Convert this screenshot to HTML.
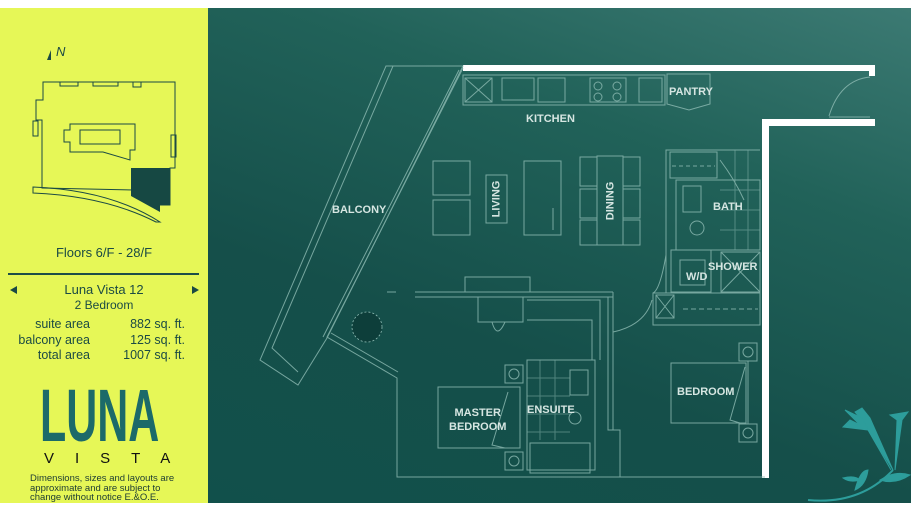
<!DOCTYPE html>
<html><head><meta charset="utf-8"><style>
body{margin:0;width:911px;height:512px;overflow:hidden;background:#fff;font-family:"Liberation Sans",sans-serif;position:relative}
#left{position:absolute;left:0;top:8px;width:208px;height:495px;background:#e6f757}
#right{position:absolute;left:208px;top:8px;width:703px;height:495px;background:linear-gradient(200deg,#3c7a73 0%,#216259 30%,#154f4a 65%,#11504b 100%)}
.t{position:absolute;color:#1b4a44;white-space:nowrap}
.l{position:absolute;color:#d6e6e2;font-weight:bold;font-size:11px;white-space:nowrap}
</style></head><body>
<div id="left"></div>
<div id="right"></div>
<svg style="position:absolute;left:0;top:0" width="911" height="512" viewBox="0 0 911 512">
<g fill="none" stroke="#1b4a44" stroke-width="1">
<polygon points="43,82 175,82 175,168 170,168 170,205 160,205 135,190 42,188 42,120 36,120 36,100 43,100"/>
<rect x="33" y="121" width="5" height="15"/>
<rect x="171" y="135" width="5" height="22"/>
<polyline points="60,82 60,86 78,86 78,82"/><polyline points="93,82 93,86 118,86 118,82"/><polyline points="133,82 133,87 141,87 141,82"/>
<polygon points="70,124 135,124 135,150 130,150 130,160 103,152 70,152 70,142 64,142 64,130 70,130"/>
<rect x="80" y="130" width="40" height="14"/>
<path d="M33,187 Q110,190 160,222 L156,222 Q105,196 33,193 Z"/>
</g>
<polygon points="131,168 170,168 170,205 160,205 160,212 131,196" fill="#164843"/>
<polygon points="47,60 51,50 51,60" fill="#1b4a44"/>
<line x1="8" y1="274" x2="199" y2="274" stroke="#1d4e48" stroke-width="2"/>
<polygon points="10,290 17,286 17,294" fill="#1b4a44"/><polygon points="199,290 192,286 192,294" fill="#1b4a44"/>
<g fill="#fff">
<rect x="463" y="65" width="412" height="6"/><rect x="869" y="65" width="6" height="11"/>
<rect x="762" y="119" width="113" height="7"/><rect x="762" y="119" width="7" height="359"/>
</g>
<g fill="none" stroke="#8fbcb4" stroke-width="1" opacity="0.8">
<polygon points="386,66 463,66 327,338 298,385 260,360"/>
<polyline points="393,66 272,348 298,372"/>
<path d="M463,68 L327,337 L397,378 L397,477 L765,477"/>
<path d="M459,70 L323,337 M331,333 L398,372" />
<line x1="396" y1="292" x2="387" y2="292"/>
<rect x="463" y="75" width="202" height="30"/>
<rect x="465" y="78" width="27" height="24"/><line x1="465" y1="78" x2="492" y2="102"/><line x1="492" y1="78" x2="465" y2="102"/>
<rect x="502" y="78" width="32" height="22"/><rect x="538" y="78" width="27" height="24"/>
<rect x="590" y="78" width="36" height="24"/><circle cx="598" cy="86" r="4"/><circle cx="617" cy="86" r="4"/><circle cx="598" cy="97" r="4"/><circle cx="617" cy="97" r="4"/>
<rect x="639" y="78" width="23" height="24"/>
<polygon points="667,74 710,74 710,104 689,110 667,104"/>
<path d="M870,77 Q840,80 829,116"/><line x1="829" y1="117" x2="870" y2="117"/>
<rect x="433" y="161" width="37" height="34"/><rect x="433" y="200" width="37" height="35"/>
<rect x="486" y="175" width="21" height="48"/>
<rect x="524" y="161" width="37" height="74"/><line x1="553" y1="208" x2="553" y2="230"/>
<rect x="597" y="156" width="26" height="89"/>
<rect x="580" y="157" width="17" height="29"/><rect x="580" y="189" width="17" height="29"/><rect x="580" y="220" width="17" height="25"/>
<rect x="623" y="157" width="17" height="29"/><rect x="623" y="189" width="17" height="29"/><rect x="623" y="220" width="17" height="25"/>
<polyline points="666,293 666,150 760,150"/>
<rect x="670" y="152" width="47" height="26"/><line x1="672" y1="166" x2="715" y2="166" stroke-dasharray="4,3"/>
<rect x="676" y="180" width="84" height="70"/>
<rect x="683" y="186" width="18" height="26"/><circle cx="697" cy="228" r="7"/>
<path d="M720,160 Q735,180 744,200"/>
<g opacity="0.6"><line x1="720" y1="190" x2="760" y2="190"/><line x1="720" y1="210" x2="760" y2="210"/><line x1="720" y1="230" x2="760" y2="230"/><line x1="735" y1="150" x2="735" y2="250"/><line x1="748" y1="150" x2="748" y2="250"/></g>
<rect x="671" y="250" width="40" height="42"/><rect x="680" y="260" width="25" height="25"/>
<rect x="721" y="252" width="39" height="40"/><line x1="721" y1="292" x2="760" y2="252"/><line x1="721" y1="252" x2="760" y2="292"/>
<path d="M666,255 Q660,290 653,293"/>
<rect x="653" y="293" width="107" height="32"/><rect x="656" y="295" width="18" height="23"/><line x1="656" y1="295" x2="674" y2="318"/><line x1="674" y1="295" x2="656" y2="318"/>
<line x1="683" y1="309" x2="758" y2="309" stroke-dasharray="5,3"/>
<path d="M613,332 Q645,325 652,300"/>
<rect x="671" y="363" width="75" height="60"/><rect x="739" y="343" width="18" height="18"/><rect x="739" y="424" width="18" height="18"/>
<circle cx="748" cy="352" r="5"/><circle cx="748" cy="433" r="5"/>
<polyline points="745,367 730,420 740,423"/>
<line x1="748" y1="361" x2="748" y2="424"/>
<line x1="415" y1="292" x2="613" y2="292"/><line x1="415" y1="297" x2="613" y2="297"/>
<rect x="465" y="277" width="65" height="15"/>
<rect x="478" y="297" width="45" height="25"/><path d="M492,322 Q497,340 505,322"/>
<polyline points="527,300 600,300 600,360"/><polyline points="527,320 592,320 592,360"/>
<line x1="613" y1="292" x2="613" y2="430"/><polyline points="608,297 608,430 620,430 620,477"/>
<rect x="527" y="360" width="68" height="110"/>
<g opacity="0.6"><line x1="527" y1="378" x2="570" y2="378"/><line x1="527" y1="396" x2="570" y2="396"/><line x1="527" y1="414" x2="570" y2="414"/><line x1="527" y1="432" x2="570" y2="432"/><line x1="540" y1="360" x2="540" y2="440"/><line x1="555" y1="360" x2="555" y2="440"/></g>
<rect x="570" y="370" width="18" height="25"/><circle cx="575" cy="418" r="6"/>
<rect x="530" y="443" width="60" height="30"/>
<rect x="438" y="387" width="82" height="61"/><rect x="505" y="365" width="18" height="18"/><rect x="505" y="452" width="18" height="18"/>
<circle cx="514" cy="374" r="5"/><circle cx="514" cy="461" r="5"/>
<polyline points="508,392 492,445 505,448"/>
</g>
<circle cx="367" cy="327" r="15" fill="#0d3e3a" stroke="#8fbcb4" stroke-width="0.8" stroke-dasharray="2,2"/>
<g fill="#2d9d9b" stroke="#2d9d9b">
<path d="M808,500 Q860,505 893,470" fill="none" stroke-width="2"/>
<path d="M893,470 L862,420 L855,412 L862,408 L870,418 Z"/>
<path d="M891,470 L868,430 L843,427 L850,420 L860,425 L845,410 L862,418 Z"/>
<path d="M895,470 L897,420 L890,415 L908,412 L902,420 Z"/>
<path d="M880,480 Q895,470 910,475 Q895,485 880,480Z"/>
<path d="M855,490 Q860,470 868,470 Q866,485 855,490Z"/>
<path d="M843,478 Q855,475 860,480 Q850,483 843,478Z"/>
</g>
</svg>
<div class="t" style="left:56px;top:44px;font-size:13px;font-style:italic">N</div>
<div class="t" style="left:0;width:208px;text-align:center;top:245px;font-size:13px">Floors 6/F - 28/F</div>
<div class="t" style="left:0;width:208px;text-align:center;top:282px;font-size:13px">Luna Vista 12</div>
<div class="t" style="left:0;width:208px;text-align:center;top:298px;font-size:12px">2 Bedroom</div>
<div class="t" style="left:0;width:90px;text-align:right;top:317px;font-size:12.5px;line-height:15.5px">suite area<br>balcony area<br>total area</div>
<div class="t" style="left:100px;width:85px;text-align:right;top:317px;font-size:12.5px;line-height:15.5px">882 sq. ft.<br>125 sq. ft.<br>1007 sq. ft.</div>
<div class="t" style="left:40px;top:385px;font-size:74px;line-height:62px;color:#1c6a69;font-weight:bold;transform:scaleX(0.58);transform-origin:0 0">LUNA</div>
<div class="t" style="left:44px;top:450px;font-size:15px;letter-spacing:21px;color:#111">VISTA</div>
<div class="t" style="left:30px;top:474px;font-size:9.5px;line-height:9.5px;color:#1b3a33">Dimensions, sizes and layouts are<br>approximate and are subject to<br>change without notice E.&amp;O.E.</div>
<div class="l" style="left:526px;top:113px">KITCHEN</div>
<div class="l" style="left:669px;top:86px">PANTRY</div>
<div class="l" style="left:332px;top:204px">BALCONY</div>
<div class="l" style="left:713px;top:201px">BATH</div>
<div class="l" style="left:708px;top:261px">SHOWER</div>
<div class="l" style="left:686px;top:271px">W/D</div>
<div class="l" style="left:677px;top:386px">BEDROOM</div>
<div class="l" style="left:449px;top:406px;text-align:center;line-height:14px">MASTER<br>BEDROOM</div>
<div class="l" style="left:527px;top:404px">ENSUITE</div>
<div class="l" style="left:478px;top:193px;transform:rotate(-90deg)">LIVING</div>
<div class="l" style="left:591px;top:195px;transform:rotate(-90deg)">DINING</div>
</body></html>
